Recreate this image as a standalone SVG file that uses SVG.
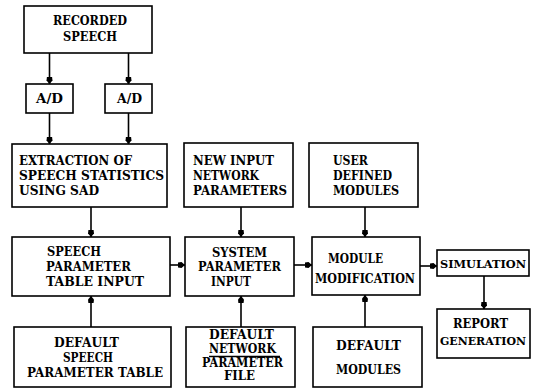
<svg xmlns="http://www.w3.org/2000/svg" width="537" height="389" viewBox="0 0 537 389">
  <style>
    .box { fill: #ffffff; stroke: #000000; stroke-width: 1.6; }
    .lbl { font-family: "DejaVu Serif", "Liberation Serif", serif; font-weight: bold; font-size: 13px; fill: #000000; }
    .tight { font-size: 12px; }
    .narrow { font-size: 11.5px; }
    .link { stroke: #000000; stroke-width: 1.6; fill: none; marker-end: url(#head); }
    .uline { stroke: #000000; stroke-width: 1.3; }
  </style>
  <defs>
    <marker id="head" markerUnits="userSpaceOnUse" markerWidth="8" markerHeight="8" viewBox="0 -4 8 8" refX="7" refY="0" orient="auto">
      <path d="M0,-2.6 L3.5,-3 L7,0 L3.5,3 L0,2.6 Z" fill="#000000"/>
    </marker>
  </defs>
  <rect width="537" height="389" fill="#ffffff"/>

  <g id="connectors">
    <line class="link" x1="49.5" y1="53" x2="49.5" y2="84"/>
    <line class="link" x1="128.5" y1="53" x2="128.5" y2="84"/>
    <line class="link" x1="49.5" y1="113" x2="49.5" y2="144"/>
    <line class="link" x1="128.5" y1="113" x2="128.5" y2="144"/>
    <line class="link" x1="91" y1="207" x2="91" y2="237"/>
    <line class="link" x1="91" y1="327" x2="91" y2="296"/>
    <line class="link" x1="241" y1="207" x2="241" y2="237"/>
    <line class="link" x1="241" y1="327" x2="241" y2="296"/>
    <line class="link" x1="170" y1="265" x2="185" y2="265"/>
    <line class="link" x1="294" y1="265" x2="312" y2="265"/>
    <line class="link" x1="365" y1="207" x2="365" y2="237"/>
    <line class="link" x1="365" y1="327" x2="365" y2="295"/>
    <line class="link" x1="420" y1="266" x2="437" y2="266"/>
    <line class="link" x1="484" y1="276" x2="484" y2="309"/>
  </g>

  <g id="recorded-speech">
    <rect class="box" x="24" y="6" width="128" height="47"/>
    <text class="lbl" x="53" y="25" textLength="74" lengthAdjust="spacingAndGlyphs">RECORDED</text>
    <text class="lbl" x="63" y="41" textLength="54" lengthAdjust="spacingAndGlyphs">SPEECH</text>
  </g>

  <g id="ad-left">
    <rect class="box" x="26" y="84" width="47" height="29"/>
    <text class="lbl" x="36" y="103" textLength="27" lengthAdjust="spacingAndGlyphs">A/D</text>
  </g>

  <g id="ad-right">
    <rect class="box" x="105" y="84" width="47" height="29"/>
    <text class="lbl" x="117" y="103" textLength="25" lengthAdjust="spacingAndGlyphs">A/D</text>
  </g>

  <g id="extraction">
    <rect class="box" x="12" y="144" width="155" height="63"/>
    <text class="lbl" x="19" y="165" textLength="113" lengthAdjust="spacingAndGlyphs">EXTRACTION OF</text>
    <text class="lbl" x="19" y="180" textLength="145" lengthAdjust="spacingAndGlyphs">SPEECH STATISTICS</text>
    <text class="lbl" x="19" y="195" textLength="80" lengthAdjust="spacingAndGlyphs">USING  SAD</text>
  </g>

  <g id="new-input">
    <rect class="box" x="184" y="143" width="109" height="64"/>
    <text class="lbl" x="193" y="165" textLength="81" lengthAdjust="spacingAndGlyphs">NEW INPUT</text>
    <text class="lbl" x="193" y="180" textLength="66" lengthAdjust="spacingAndGlyphs">NETWORK</text>
    <text class="lbl" x="193" y="195" textLength="94" lengthAdjust="spacingAndGlyphs">PARAMETERS</text>
  </g>

  <g id="user-defined">
    <rect class="box" x="309" y="143" width="109" height="64"/>
    <text class="lbl" x="333" y="165" textLength="35" lengthAdjust="spacingAndGlyphs">USER</text>
    <text class="lbl" x="333" y="180" textLength="59" lengthAdjust="spacingAndGlyphs">DEFINED</text>
    <text class="lbl" x="333" y="195" textLength="66" lengthAdjust="spacingAndGlyphs">MODULES</text>
  </g>

  <g id="speech-parameter-table-input">
    <rect class="box" x="12" y="237" width="158" height="59"/>
    <text class="lbl" x="47" y="256" textLength="54" lengthAdjust="spacingAndGlyphs">SPEECH</text>
    <text class="lbl" x="46" y="271" textLength="85" lengthAdjust="spacingAndGlyphs">PARAMETER</text>
    <text class="lbl" x="46" y="286" textLength="98" lengthAdjust="spacingAndGlyphs">TABLE  INPUT</text>
  </g>

  <g id="system-parameter-input">
    <rect class="box" x="185" y="237" width="109" height="59"/>
    <text class="lbl" x="212" y="257" textLength="55" lengthAdjust="spacingAndGlyphs">SYSTEM</text>
    <text class="lbl" x="198" y="271" textLength="83" lengthAdjust="spacingAndGlyphs">PARAMETER</text>
    <text class="lbl" x="211" y="286" textLength="40" lengthAdjust="spacingAndGlyphs">INPUT</text>
  </g>

  <g id="module-modification">
    <rect class="box" x="312" y="237" width="108" height="58"/>
    <text class="lbl" x="328" y="263" textLength="55" lengthAdjust="spacingAndGlyphs">MODULE</text>
    <text class="lbl" x="315" y="283" textLength="100" lengthAdjust="spacingAndGlyphs">MODIFICATION</text>
  </g>

  <g id="simulation">
    <rect class="box" x="437" y="250" width="92" height="26"/>
    <text class="lbl narrow" x="440" y="268" textLength="86" lengthAdjust="spacingAndGlyphs">SIMULATION</text>
  </g>

  <g id="report-generation">
    <rect class="box" x="437" y="309" width="93" height="49"/>
    <text class="lbl" x="453" y="328" textLength="55" lengthAdjust="spacingAndGlyphs">REPORT</text>
    <text class="lbl narrow" x="440" y="345" textLength="86" lengthAdjust="spacingAndGlyphs">GENERATION</text>
  </g>

  <g id="default-speech-parameter-table">
    <rect class="box" x="14" y="327" width="157" height="60"/>
    <text class="lbl" x="54" y="347" textLength="65" lengthAdjust="spacingAndGlyphs">DEFAULT</text>
    <text class="lbl" x="63" y="362" textLength="50" lengthAdjust="spacingAndGlyphs">SPEECH</text>
    <text class="lbl" x="27" y="377" textLength="136" lengthAdjust="spacingAndGlyphs">PARAMETER TABLE</text>
  </g>

  <g id="default-network-parameter-file">
    <rect class="box" x="186" y="327" width="109" height="60"/>
    <text class="lbl tight" x="209" y="339" textLength="65" lengthAdjust="spacingAndGlyphs">DEFAULT</text>
    <text class="lbl tight" x="209" y="353" textLength="67" lengthAdjust="spacingAndGlyphs">NETWORK</text>
    <line class="uline" x1="209" y1="356.5" x2="280" y2="356.5"/>
    <text class="lbl tight" x="202" y="367" textLength="81" lengthAdjust="spacingAndGlyphs">PARAMETER</text>
    <text class="lbl tight" x="224" y="380" textLength="31" lengthAdjust="spacingAndGlyphs">FILE</text>
  </g>

  <g id="default-modules">
    <rect class="box" x="313" y="327" width="109" height="60"/>
    <text class="lbl" x="336" y="350" textLength="65" lengthAdjust="spacingAndGlyphs">DEFAULT</text>
    <text class="lbl" x="336" y="374" textLength="65" lengthAdjust="spacingAndGlyphs">MODULES</text>
  </g>
</svg>
